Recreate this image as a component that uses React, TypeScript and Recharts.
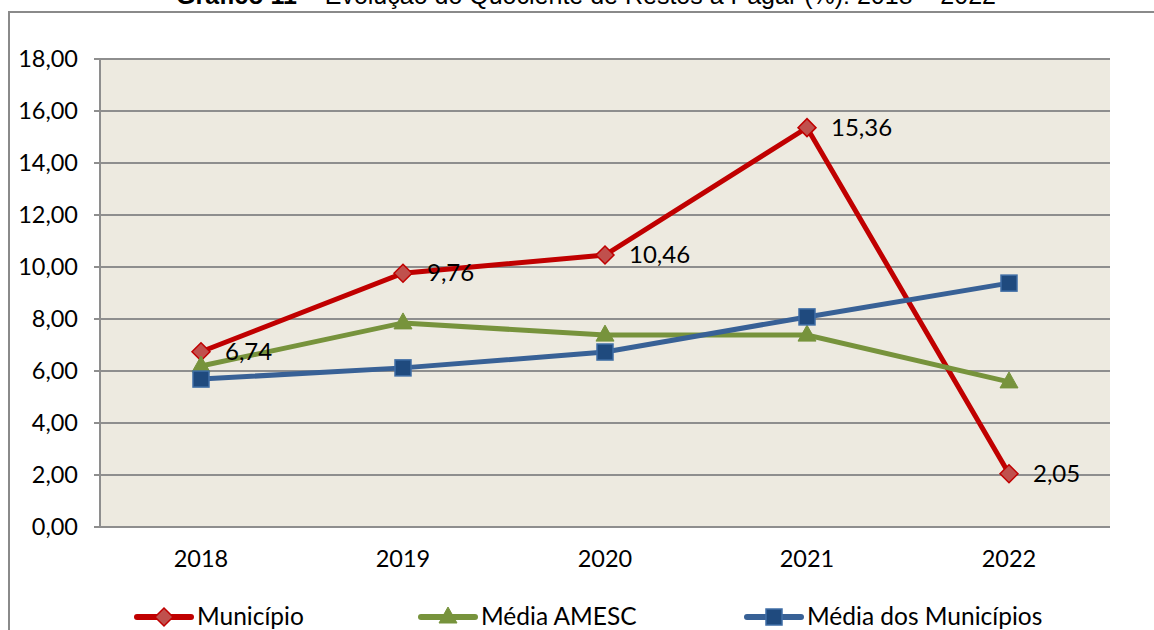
import React from 'react';
import { LineChart, Line, XAxis, YAxis, CartesianGrid, LabelList, Legend } from 'recharts';

const years = ['2018', '2019', '2020', '2021', '2022'];
const municipio = [6.74, 9.76, 10.46, 15.36, 2.05];
const mediaAmesc = [6.19, 7.85, 7.38, 7.38, 5.58];
const mediaMunicipios = [5.69, 6.12, 6.73, 8.08, 9.38];
const yTicks = [0, 2, 4, 6, 8, 10, 12, 14, 16, 18];

const FONT = 'Lato, "Noto Sans", sans-serif';
const fmt = (v: number) => v.toFixed(2).replace('.', ',');

const chartData = years.map((y, i) => ({
    year: y,
    municipio: municipio[i],
    amesc: mediaAmesc[i],
    media: mediaMunicipios[i],
}));

// marker shapes, Excel style
const Diamond = ({ cx, cy }: any) => (
    <path
        d={`M${cx},${cy - 9} L${cx + 9},${cy} L${cx},${cy + 9} L${cx - 9},${cy} Z`}
        fill="#C0504D"
        stroke="#C00000"
        strokeWidth={1.5}
    />
);
const Triangle = ({ cx, cy }: any) => (
    <path
        d={`M${cx},${cy - 10} L${cx + 9},${cy + 6} L${cx - 9},${cy + 6} Z`}
        fill="#77933C"
        stroke="#77933C"
        strokeWidth={1}
    />
);
const Square = ({ cx, cy }: any) => (
    <rect x={cx - 8} y={cy - 8} width={16} height={16} fill="#1F4A7E" stroke="#3F6EA6" strokeWidth={1.5} />
);

const series = [
    { key: 'municipio', name: 'Município', color: '#C00000', Marker: Diamond },
    { key: 'amesc', name: 'Média AMESC', color: '#77933C', Marker: Triangle },
    { key: 'media', name: 'Média dos Municípios', color: '#386196', Marker: Square },
];

const legendX = [137, 421, 747];

const LegendContent = () => (
    <svg width={1154} height={36} style={{ display: 'block' }}>
        {series.map((s, i) => {
            const x = legendX[i];
            const M = s.Marker;
            return (
                <g key={s.key}>
                    <line x1={x} y1={18} x2={x + 54} y2={18} stroke={s.color} strokeWidth={6} strokeLinecap="round" />
                    <M cx={x + 27} cy={18} />
                    <text x={x + 60} y={26} fontFamily={FONT} fontSize={24.5} fill="#000">
                        {s.name}
                    </text>
                </g>
            );
        })}
    </svg>
);

const ValueLabel = ({ x, y, value }: any) => (
    <text x={x + 24} y={y + 8} fontFamily={FONT} fontSize={24} fill="#000">
        {fmt(value)}
    </text>
);

export default function App() {
    return (
        <div style={{ position: 'fixed', left: 0, top: 0, width: 1154, height: 630, overflow: 'hidden', background: '#fff' }}>
            <div
                style={{
                    position: 'absolute',
                    left: 0,
                    top: -19,
                    width: 1172,
                    textAlign: 'center',
                    whiteSpace: 'nowrap',
                    fontFamily: '"Liberation Sans", Arial, sans-serif',
                    fontSize: 25,
                    lineHeight: '28px',
                    color: '#000',
                }}
            >
                <b>Gráfico 11</b> – Evolução do Quociente de Restos a Pagar (%): 2018 – 2022
            </div>
            <div
                style={{
                    position: 'absolute',
                    left: 8,
                    top: 11,
                    width: 1300,
                    height: 800,
                    borderLeft: '2px solid #8A8A8A',
                    borderTop: '2px solid #8A8A8A',
                }}
            />
            <div style={{ position: 'absolute', left: 0, top: 0 }}>
                <LineChart width={1154} height={630} data={chartData} margin={{ top: 59, right: 44, bottom: 17, left: 0 }}>
                    <CartesianGrid vertical={false} fill="#EDEAE0" stroke="#8E8E8E" strokeWidth={2} />
                    <XAxis
                        dataKey="year"
                        axisLine={false}
                        tickLine={false}
                        height={50}
                        padding={{ left: 101, right: 101 }}
                        tickMargin={17}
                        tick={{ fontFamily: FONT, fontSize: 23.5, fill: '#000' }}
                    />
                    <YAxis
                        width={100}
                        domain={[0, 18]}
                        ticks={yTicks}
                        interval={0}
                        tickFormatter={fmt}
                        axisLine={{ stroke: '#8E8E8E', strokeWidth: 2 }}
                        tickLine={{ stroke: '#8E8E8E', strokeWidth: 2 }}
                        tickSize={6}
                        tickMargin={16}
                        tick={{ fontFamily: FONT, fontSize: 23.5, fill: '#000' }}
                    />
                    {series.map((s) => (
                        <Line
                            key={s.key}
                            type="linear"
                            dataKey={s.key}
                            name={s.name}
                            stroke={s.color}
                            strokeWidth={5}
                            dot={s.Marker}
                            activeDot={false}
                            isAnimationActive={false}
                        >
                            {s.key === 'municipio' && <LabelList dataKey="municipio" content={ValueLabel} />}
                        </Line>
                    ))}
                    <Legend verticalAlign="bottom" height={36} content={LegendContent} wrapperStyle={{ bottom: -5 }} />
                </LineChart>
            </div>
        </div>
    );
}
